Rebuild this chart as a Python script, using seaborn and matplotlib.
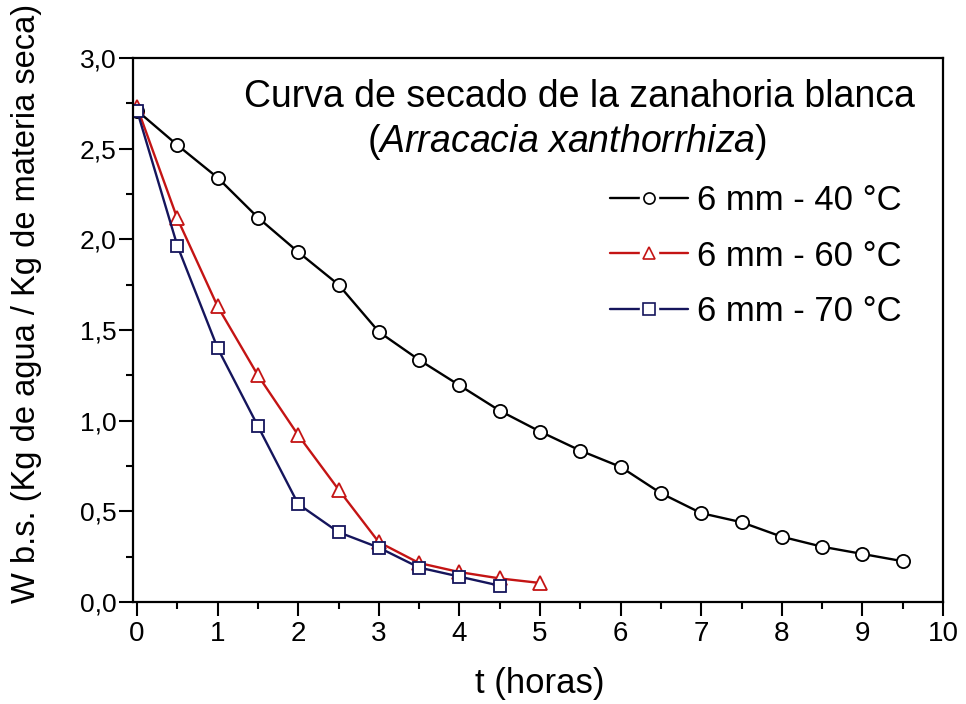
import matplotlib
matplotlib.use("Agg")
import matplotlib.pyplot as plt
from matplotlib.lines import Line2D
from matplotlib.ticker import MultipleLocator, FuncFormatter
import seaborn as sns

# Drying time (hours)
t_40 = [0, 0.5, 1, 1.5, 2, 2.5, 3, 3.5, 4, 4.5, 5, 5.5, 6, 6.5, 7, 7.5, 8, 8.5, 9, 9.5]
t_60 = [0, 0.5, 1, 1.5, 2, 2.5, 3, 3.5, 4, 4.5, 5]
t_70 = [0, 0.5, 1, 1.5, 2, 2.5, 3, 3.5, 4, 4.5]

# Moisture content, dry basis (kg water / kg dry matter)
w_40 = [2.71, 2.52, 2.34, 2.12, 1.93, 1.75, 1.49, 1.335, 1.195, 1.055,
        0.94, 0.835, 0.745, 0.60, 0.49, 0.44, 0.36, 0.305, 0.265, 0.225]
w_60 = [2.73, 2.115, 1.63, 1.25, 0.92, 0.62, 0.33, 0.215, 0.165, 0.13, 0.105]
w_70 = [2.71, 1.965, 1.40, 0.97, 0.54, 0.385, 0.30, 0.19, 0.14, 0.09]

labels = ["6 mm - 40 °C", "6 mm - 60 °C", "6 mm - 70 °C"]
colors = ["#000000", "#C41414", "#15155C"]
markers = ["o", "^", "s"]
marker_sizes = [9.5, 10.5, 9]

sns.set_theme(style="ticks")
plt.rcParams["font.family"] = ["Liberation Sans", "DejaVu Sans"]
plt.rcParams["mathtext.fontset"] = "custom"
plt.rcParams["mathtext.rm"] = "Liberation Sans"
plt.rcParams["mathtext.it"] = "Liberation Sans:italic"
plt.rcParams["text.color"] = "black"
plt.rcParams["axes.labelcolor"] = "black"
plt.rcParams["xtick.color"] = "black"
plt.rcParams["ytick.color"] = "black"

fig = plt.figure(figsize=(9.66, 7.04), dpi=100)
fig.patch.set_facecolor("white")
ax = fig.add_axes([133 / 966, 1 - 602 / 704, (943 - 133) / 966, (602 - 58) / 704])
ax.set_facecolor("white")

series = [(t_40, w_40), (t_60, w_60), (t_70, w_70)]
for (tt, ww), lab, col, mk, ms in zip(series, labels, colors, markers, marker_sizes):
    sns.lineplot(x=tt, y=ww, ax=ax, color=col, marker=mk, markersize=ms,
                 markerfacecolor="white", markeredgecolor=col, markeredgewidth=1.3,
                 linewidth=1.7, label=lab, legend=False, sort=False)

ax.set_xlim(-0.05, 10)
ax.set_ylim(0, 3.0)

ax.xaxis.set_major_locator(MultipleLocator(1))
ax.xaxis.set_minor_locator(MultipleLocator(0.5))
ax.yaxis.set_major_locator(MultipleLocator(0.5))
ax.yaxis.set_minor_locator(MultipleLocator(0.25))
ax.yaxis.set_major_formatter(FuncFormatter(lambda v, p: f"{v:.1f}".replace(".", ",")))

ax.tick_params(axis="both", which="major", direction="out", length=10, width=1.5,
               labelsize=19, color="black", labelcolor="black")
ax.tick_params(axis="x", which="major", labelsize=20, pad=4)
ax.tick_params(axis="both", which="minor", direction="out", length=5, width=1.5,
               color="black")
ax.tick_params(axis="y", which="major", pad=2)
ax.tick_params(top=False, right=False, which="both")

for side in ["left", "right", "top", "bottom"]:
    ax.spines[side].set_visible(True)
    ax.spines[side].set_color("black")
    ax.spines[side].set_linewidth(1.6)

fig.text(540 / 966, 1 - 684 / 704, "t (horas)", ha="center", va="center",
         fontsize=25, color="black")
fig.text(27 / 966, 1 - 303 / 704, "W b.s. (Kg de agua / Kg de materia seca)",
         ha="center", va="center", rotation=90, fontsize=23.5, color="black")

fig.text(579 / 966, 1 - 97 / 704, "Curva de secado de la zanahoria blanca",
         ha="center", va="center", fontsize=27, color="black")
fig.text(567 / 966, 1 - 142 / 704, r"($\mathit{Arracacia\ xanthorrhiza}$)",
         ha="center", va="center", fontsize=27, color="black")

# Legend keys: line broken around a small open marker
handles = []
for c, m in zip(colors, markers):
    line = Line2D([], [], color=c, linewidth=1.7)
    gap = Line2D([], [], linestyle="none", marker="o", markersize=13,
                 markerfacecolor="white", markeredgecolor="white")
    mark = Line2D([], [], linestyle="none", marker=m, markersize=8,
                  markerfacecolor="white", markeredgecolor=c, markeredgewidth=1.2)
    handles.append((line, gap, mark))

leg = ax.legend(handles, labels, loc="upper left",
                bbox_to_anchor=(610 / 966, 1 - 184 / 704),
                bbox_transform=fig.transFigure, frameon=False, fontsize=25,
                handlelength=2.25, handletextpad=0.25, labelspacing=0.65,
                borderpad=0, borderaxespad=0)
for txt in leg.get_texts():
    txt.set_color("black")

fig.savefig("out.png", dpi=100, facecolor="white")
